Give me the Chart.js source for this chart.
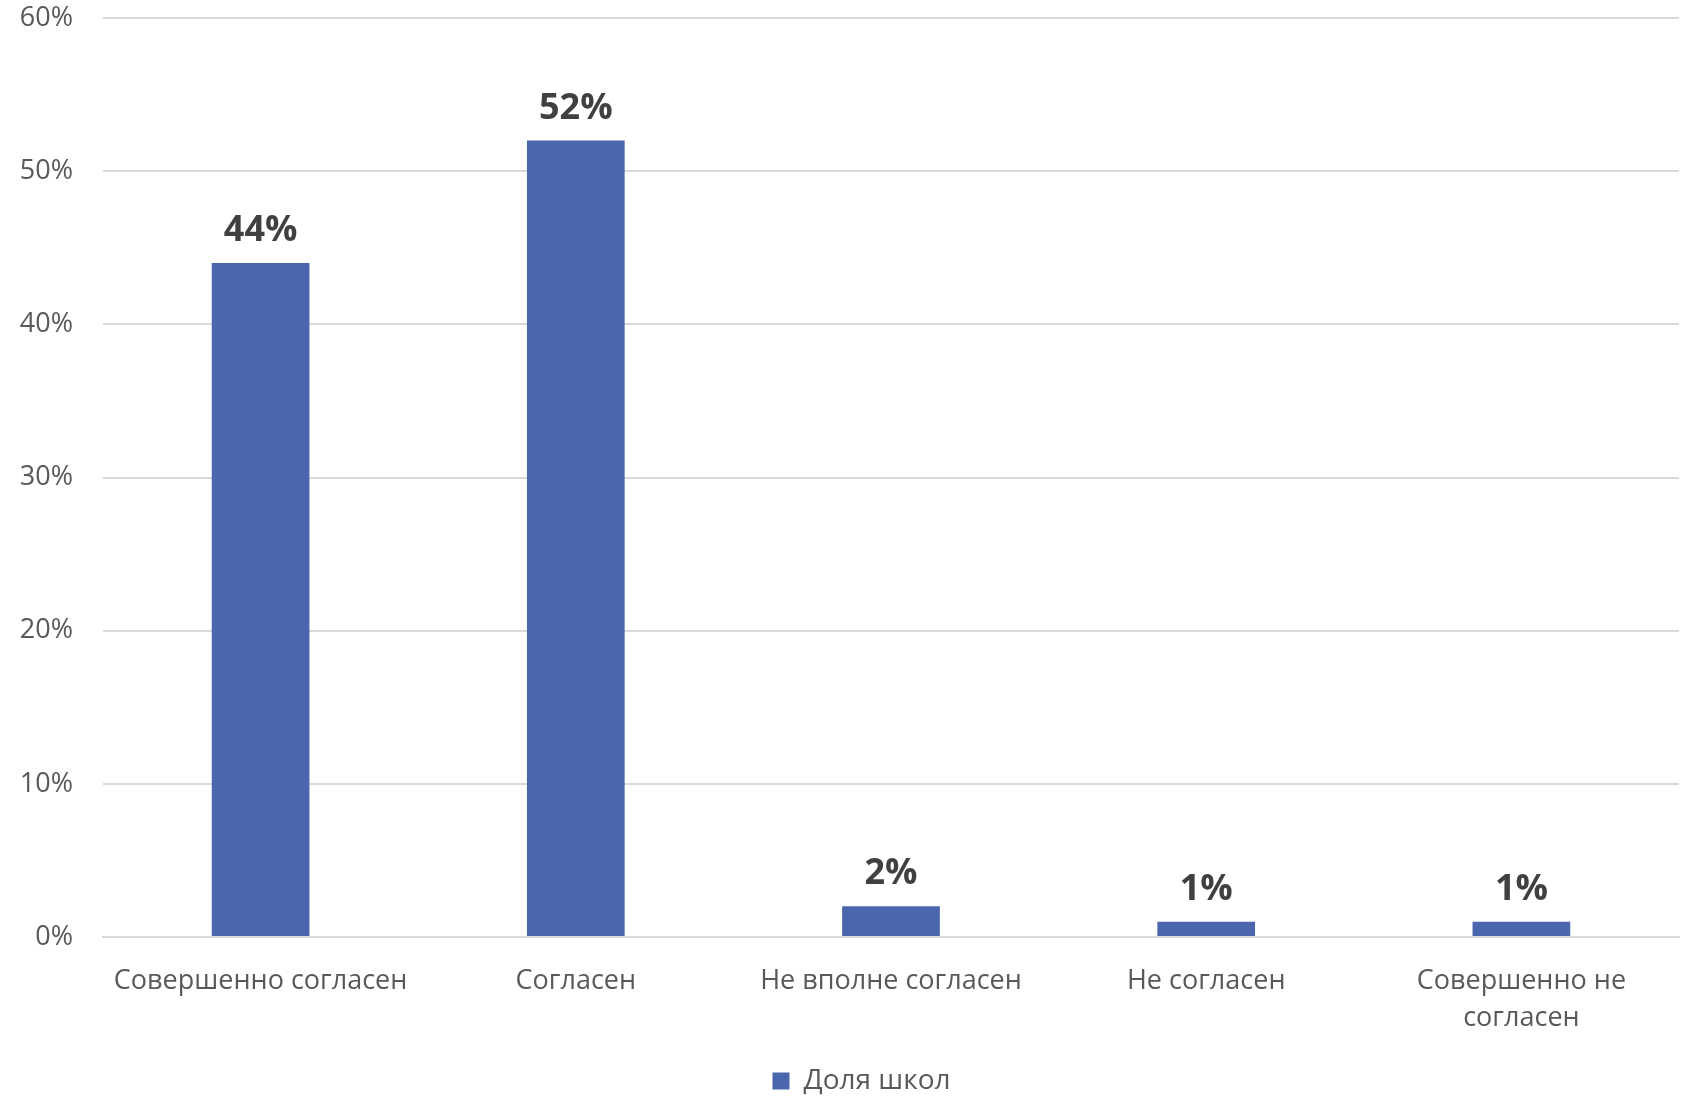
<!DOCTYPE html>
<html>
<head>
<meta charset="utf-8">
<script src="https://cdn.jsdelivr.net/npm/chart.js@4.4.1/dist/chart.umd.min.js"></script>
<style>
  html, body { margin: 0; padding: 0; background: #ffffff; }
  #wrap { width: 1694px; height: 1096px; position: relative; }
</style>
</head>
<body>
<div id="wrap"><canvas id="chart"></canvas></div>
<script>
// Chart data
const categories = [
    'Совершенно согласен',
    'Согласен',
    'Не вполне согласен',
    'Не согласен',
    ['Совершенно не', 'согласен']
];
const seriesName = 'Доля школ';
const shareValues = [44, 52, 2, 1, 1];
const yTicks = [0, 10, 20, 30, 40, 50, 60];

const FONT = '"Open Sans", "DejaVu Sans", sans-serif';

// draws the bold percent above each bar
const valueLabels = {
    id: 'valueLabels',
    afterDatasetsDraw(chart) {
        const ctx = chart.ctx;
        const meta = chart.getDatasetMeta(0);
        ctx.save();
        ctx.font = 'bold 36px ' + FONT;
        ctx.fillStyle = '#404040';
        ctx.textAlign = 'center';
        ctx.textBaseline = 'alphabetic';
        meta.data.forEach((bar, i) => {
            ctx.fillText(shareValues[i] + '%', bar.x, bar.y - 22);
        });
        ctx.restore();
    }
};

// legend sits a little right of the canvas centre in the original
const legendShift = {
    id: 'legendShift',
    afterLayout(chart) {
        if (chart.legend) {
            chart.legend.left += 22;
            chart.legend.right += 22;
        }
    }
};

const ctx = document.getElementById('chart').getContext('2d');
new Chart(ctx, {
    type: 'bar',
    data: {
        labels: categories,
        datasets: [{
            label: seriesName,
            data: shareValues,
            backgroundColor: '#4a66ac',
            borderWidth: 0,
            barPercentage: 0.31,
            categoryPercentage: 1.0
        }]
    },
    options: {
        responsive: true,
        maintainAspectRatio: false,
        animation: false,
        layout: {
            padding: { top: 18, right: 15, bottom: -9, left: 0 }
        },
        plugins: {
            legend: {
                position: 'bottom',
                labels: {
                    boxWidth: 17,
                    boxHeight: 17,
                    padding: 10,
                    color: '#595959',
                    font: { family: FONT, size: 28 }
                }
            },
            tooltip: { enabled: false }
        },
        scales: {
            x: {
                grid: { display: false },
                border: { display: true, color: '#d9d9d9', width: 2 },
                ticks: {
                    color: '#595959',
                    padding: 17,
                    maxRotation: 0,
                    autoSkip: false,
                    font: { family: FONT, size: 27, lineHeight: 1.4 }
                },
                afterFit(scale) { scale.height = 120; }
            },
            y: {
                min: 0,
                max: 60,
                afterBuildTicks(scale) {
                    scale.ticks = yTicks.map(v => ({ value: v }));
                },
                grid: {
                    color: '#d9d9d9',
                    lineWidth: 2,
                    drawTicks: true,
                    tickLength: 30,
                    tickColor: 'rgba(0,0,0,0)'
                },
                border: { display: false },
                ticks: {
                    color: '#595959',
                    padding: 0,
                    font: { family: FONT, size: 27 },
                    callback: v => v + '%'
                },
                afterFit(scale) { scale.width = 103; }
            }
        }
    },
    plugins: [valueLabels, legendShift]
});
</script>
</body>
</html>
